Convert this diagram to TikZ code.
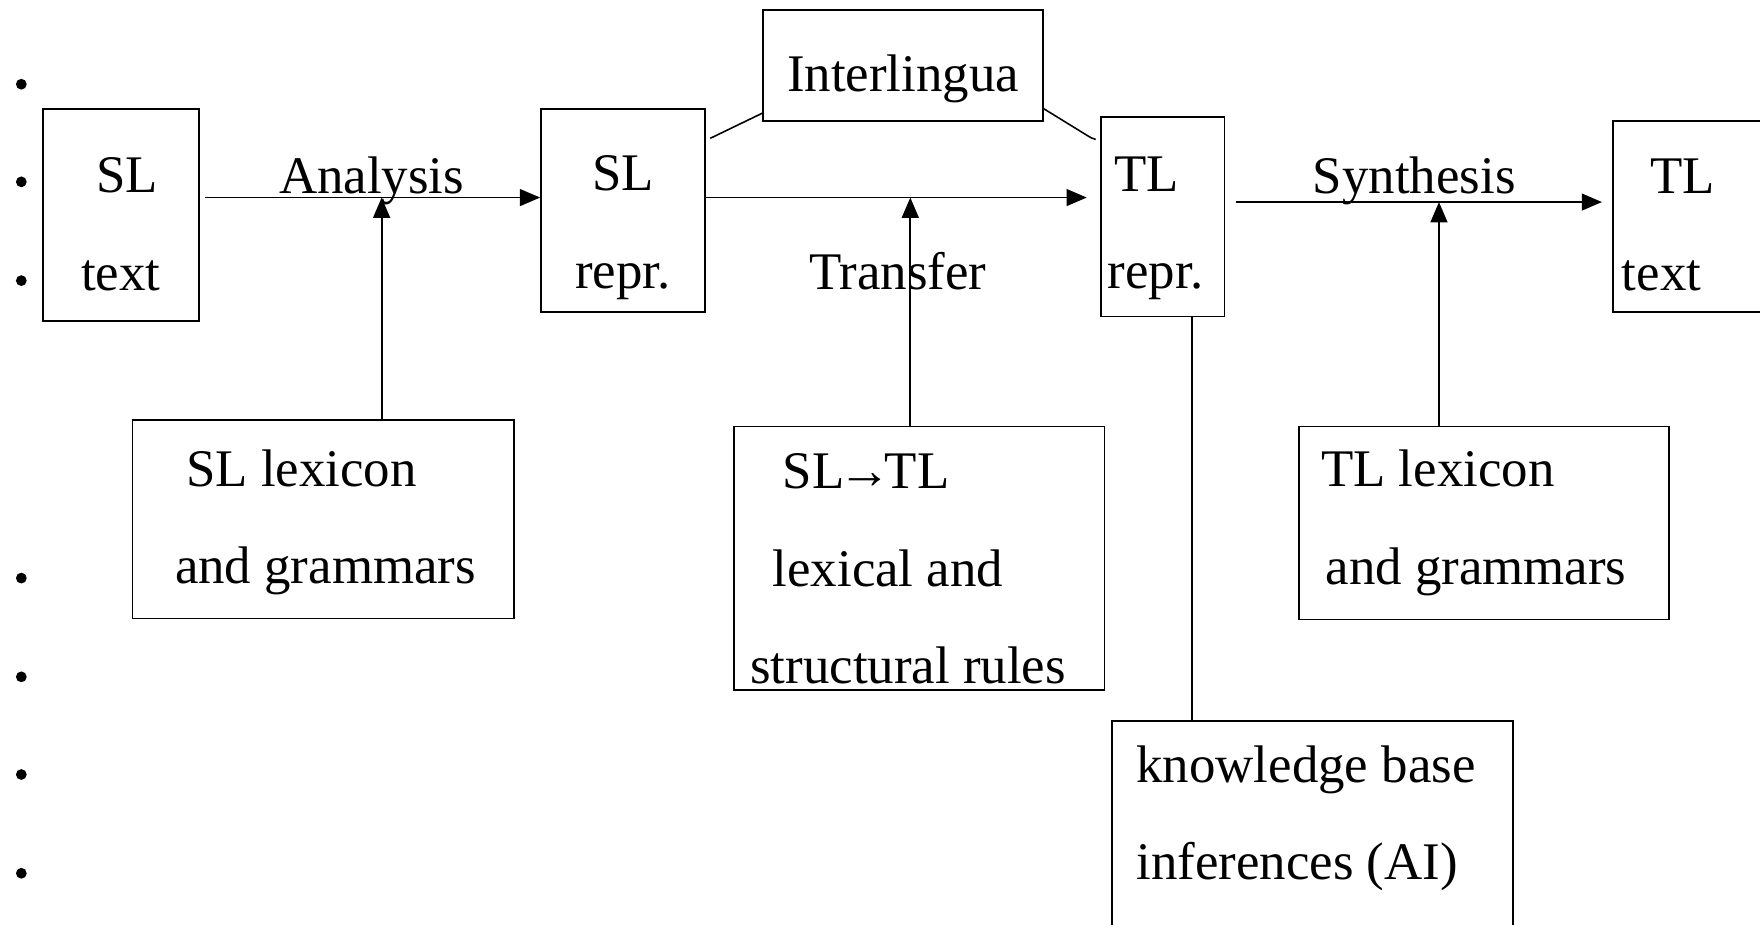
\documentclass[tikz,border=0pt]{standalone}
\usepackage{fontspec}
\setmainfont{Liberation Serif}
\usetikzlibrary{arrows.meta,positioning,calc}
% invisible struts: lower the lines of a box / pad a line on the right
\newcommand{\pushdown}[1]{\rule{0pt}{#1}}
\newcommand{\padright}[1]{\rule{#1}{0pt}}

\begin{document}
\begin{tikzpicture}[x=0.1mm,y=-0.1mm,>={Triangle[length=1.8mm,width=1.5mm]},
  font=\fontsize{13.4}{24.7}\selectfont,
  box/.style={draw=black,line width=0.45pt,inner sep=0pt,align=center},
  lbox/.style={box,align=left},
  lab/.style={inner sep=0pt,anchor=base},
  flow/.style={->,line width=0.45pt},
  link/.style={line width=0.4pt}]
\clip (0,0) rectangle (1568,824);
% bullets of the list the figure sits in
\foreach \y in {75,162,250,515,603,690,778}
  \fill (19,\y) circle (0.48mm);
% main row
\node[box,minimum width=13.9mm,minimum height=18.9mm] (sltext) at (107.5,191.5) {\pushdown{4.8mm}\hspace*{1.2mm}SL\\text};
\node[box,minimum width=14.6mm,minimum height=18.1mm] (slrepr) at (555,187.5) {\pushdown{6.2mm}SL\\repr.};
\node[box,minimum width=24.9mm,minimum height=9.9mm] (inter) at (804.5,58.5) {\pushdown{5.6mm}Interlingua};
\node[lbox,text width=9.8mm,inner xsep=0.6mm,minimum height=17.8mm] (tlrepr) at (1036,193) {\pushdown{5.2mm}\hspace*{0.6mm}TL\\repr.};
\node[lbox,text width=14mm,inner xsep=0.8mm,minimum height=17mm] (tltext) at (1515,193) {\pushdown{4.6mm}\hspace*{2.5mm}TL\\text};
% resources below
\node[lbox,minimum width=34mm,minimum height=17.7mm] (sllex) at (288,462.5) {\pushdown{3.8mm}\hspace*{1.4mm}SL lexicon\\\hspace*{0.4mm}and grammars};
\node[lbox,minimum width=33mm,minimum height=23.5mm] (rules) at (819,497.5) {\pushdown{5mm}\hspace*{2.9mm}SL\kern-0.12em→\kern-0.12em TL\\\hspace*{2mm}lexical and\\structural rules\padright{2mm}};
\node[lbox,minimum width=33mm,minimum height=17.2mm] (tllex) at (1322,466) {TL lexicon\\\hspace*{0.4mm}and grammars\padright{1.8mm}};
\node[lbox,minimum width=35.7mm,minimum height=25.1mm] (kb) at (1169.5,767.5) {knowledge base\padright{1.2mm}\\inferences (AI)\\\mbox{}};
% step labels
\node[lab] (ana) at (331,172) {Analysis};
\node[lab] (trf) at (800,258) {Transfer};
\node[lab] (syn) at (1260,172) {Synthesis};
% arrows
\coordinate (rowA) at (0,176);
\coordinate (rowS) at (0,180);
\draw[flow] ([xshift=0.5mm]sltext.east |- rowA) -- (slrepr.west |- rowA);
\draw[flow] (slrepr.east |- rowA) -- ([xshift=-1.2mm]tlrepr.west |- rowA);
\draw[flow] ([xshift=0.9mm]tlrepr.east |- rowS) -- ([xshift=-0.9mm]tltext.west |- rowS);
\coordinate (anaup) at (340,176);
\coordinate (trup) at (811,176);
\coordinate (synup) at (1282,180);
\draw[flow] (sllex.north -| anaup) -- (anaup);
\draw[flow] (rules.north -| trup) -- (trup);
\draw[flow] (tllex.north -| synup) -- (synup);
% interlingua and knowledge base links
\draw[link] ([shift={(0.4mm,-2.7mm)}]slrepr.north east) -- ([yshift=0.8mm]inter.south west);
\draw[link] ([yshift=1.2mm]inter.south east) -- ++(3.9mm,-2.4mm) to[out=-30,in=170] ([shift={(-0.4mm,-2.1mm)}]tlrepr.north west);
\draw[link] ([xshift=2.6mm]tlrepr.south) -- ([xshift=2.6mm]tlrepr.south |- kb.north);
\end{tikzpicture}
\end{document}
